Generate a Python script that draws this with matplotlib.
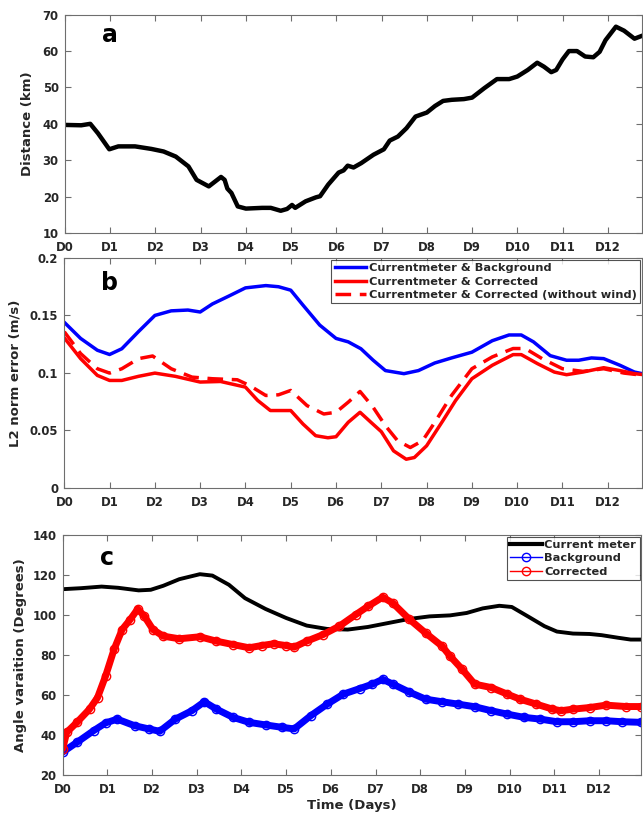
import numpy as np
import matplotlib
matplotlib.use("Agg")
import matplotlib.pyplot as plt
from matplotlib.lines import Line2D

# panel a: distance (km)
dist_t = [0, 0.36, 0.56, 0.73, 0.98, 1.18, 1.55, 1.91, 2.18, 2.45, 2.73, 2.91, 3.18, 3.45, 3.53,
          3.59, 3.68, 3.82, 4.0, 4.36, 4.55, 4.77, 4.91, 5.02, 5.09, 5.32, 5.55, 5.64, 5.82, 6.05,
          6.16, 6.25, 6.38, 6.55, 6.82, 7.05, 7.18, 7.36, 7.55, 7.75, 8.0, 8.18, 8.36, 8.55, 8.82,
          9.0, 9.27, 9.55, 9.82, 10.0, 10.23, 10.44, 10.59, 10.75, 10.86, 11.0, 11.14, 11.32, 11.5,
          11.68, 11.82, 11.95, 12.18, 12.36, 12.59, 12.8]
dist_km = [39.7, 39.6, 40.0, 37.4, 33.0, 33.8, 33.8, 33.1, 32.4, 31.0, 28.3, 24.6, 22.8, 25.4, 24.6,
           22.2, 21.0, 17.3, 16.7, 16.9, 16.9, 16.1, 16.6, 17.7, 16.9, 18.7, 19.8, 20.1, 23.3, 26.6,
           27.2, 28.5, 28.0, 29.2, 31.5, 33.0, 35.4, 36.5, 38.8, 42.0, 43.1, 44.9, 46.3, 46.6, 46.8,
           47.2, 49.8, 52.3, 52.3, 53.0, 54.8, 56.8, 55.7, 54.2, 54.8, 57.7, 60.0, 60.0, 58.5,
           58.3, 59.8, 63.0, 66.7, 65.6, 63.4, 64.4]

# panel b: L2 norm error (m/s)
bg_t = [0, 0.36, 0.73, 1.0, 1.27, 1.64, 2.0, 2.36, 2.73, 3.0, 3.27, 3.64, 4.0, 4.45, 4.73, 5.0,
        5.27, 5.64, 6.0, 6.27, 6.55, 6.82, 7.09, 7.5, 7.82, 8.18, 8.55, 9.0, 9.45, 9.82, 10.09,
        10.36, 10.73, 11.09, 11.36, 11.64, 11.91, 12.27, 12.59, 12.8]
bg_err = [0.144, 0.130, 0.1197, 0.116, 0.121, 0.136, 0.150, 0.154, 0.1547, 0.153, 0.160, 0.167,
          0.174, 0.176, 0.175, 0.172, 0.159, 0.1416, 0.130, 0.127, 0.121, 0.111, 0.102, 0.0993,
          0.102, 0.1086, 0.113, 0.118, 0.128, 0.133, 0.133, 0.127, 0.115, 0.111, 0.111, 0.113,
          0.1124, 0.1066, 0.1007, 0.099]

cor_t = [0, 0.36, 0.73, 1.0, 1.27, 1.64, 2.0, 2.45, 3.0, 3.45, 4.0, 4.27, 4.55, 5.0, 5.27, 5.55,
         5.82, 6.0, 6.27, 6.53, 6.77, 7.0, 7.27, 7.55, 7.73, 8.0, 8.36, 8.64, 9.0, 9.45, 9.91,
         10.09, 10.45, 10.82, 11.09, 11.45, 11.91, 12.27, 12.59, 12.8]
cor_err = [0.1305, 0.1124, 0.0978, 0.0934, 0.0934, 0.097, 0.0998, 0.097, 0.092, 0.0925, 0.0876,
           0.076, 0.0672, 0.0672, 0.0555, 0.0453, 0.0435, 0.0444, 0.057, 0.0657, 0.057, 0.0488,
           0.0321, 0.0248, 0.0263, 0.0365, 0.0584, 0.0759, 0.0949, 0.1066, 0.1159, 0.1159, 0.108,
           0.1007, 0.0984, 0.1007, 0.1045, 0.102, 0.0993, 0.0984]

nw_t = [0, 0.36, 0.73, 1.0, 1.27, 1.64, 1.95, 2.36, 2.82, 3.27, 3.82, 4.09, 4.45, 4.73, 5.0,
        5.36, 5.73, 6.0, 6.27, 6.53, 6.82, 7.09, 7.36, 7.64, 7.91, 8.18, 8.55, 9.0, 9.45, 9.91,
        10.18, 10.55, 11.0, 11.45, 11.91, 12.36, 12.8]
nw_err = [0.1358, 0.1168, 0.1036, 0.0998, 0.1036, 0.1124, 0.1147, 0.1036, 0.0963, 0.0949, 0.094,
          0.089, 0.0803, 0.0809, 0.0847, 0.0715, 0.0642, 0.0657, 0.0745, 0.0838, 0.070, 0.054,
          0.0409, 0.035, 0.0409, 0.0569, 0.0803, 0.1036, 0.1139, 0.1212, 0.1212, 0.1124, 0.1036,
          0.1013, 0.1036, 0.0998, 0.0978]

# panel c: angle (degrees)
cm_t = [0, 0.41, 0.87, 1.24, 1.7, 1.97, 2.25, 2.61, 3.07, 3.35, 3.72, 4.08, 4.54, 5.0, 5.46,
        5.92, 6.38, 6.83, 7.29, 7.75, 8.21, 8.67, 9.04, 9.4, 9.77, 10.05, 10.41, 10.78, 11.06,
        11.42, 11.79, 12.06, 12.43, 12.71, 12.94]
cm_ang = [112.8, 113.3, 114.1, 113.5, 112.2, 112.5, 114.5, 117.8, 120.3, 119.6, 115.0, 108.3,
          102.9, 98.4, 94.6, 92.9, 92.6, 93.9, 95.9, 97.9, 99.2, 99.7, 100.9, 103.2, 104.5, 103.9,
          99.2, 94.3, 91.6, 90.6, 90.4, 89.8, 88.5, 87.6, 87.6]

bgc_t = [0, 0.32, 0.69, 0.96, 1.22, 1.61, 1.93, 2.17, 2.52, 2.89, 3.17, 3.44, 3.81, 4.17, 4.54,
         4.91, 5.18, 5.55, 5.92, 6.28, 6.65, 6.93, 7.16, 7.39, 7.75, 8.12, 8.49, 8.85, 9.22,
         9.59, 9.95, 10.32, 10.69, 11.06, 11.42, 11.79, 12.16, 12.52, 12.94]
bgc_ang = [31.3, 36.2, 42.0, 45.9, 47.8, 44.5, 42.9, 41.7, 47.8, 52.0, 56.5, 52.8, 48.7, 46.2,
           44.9, 43.7, 42.9, 49.5, 55.3, 60.3, 63.1, 65.3, 67.7, 65.3, 61.4, 57.8, 56.5, 55.3,
           54.0, 52.0, 50.3, 48.7, 47.8, 46.5, 46.5, 47.0, 47.0, 46.5, 46.2]

corc_t = [0, 0.09, 0.32, 0.6, 0.78, 0.96, 1.15, 1.33, 1.51, 1.68, 1.83, 2.02, 2.25, 2.61, 3.07,
          3.44, 3.81, 4.17, 4.45, 4.72, 5.0, 5.18, 5.46, 5.83, 6.19, 6.56, 6.83, 7.16, 7.39,
          7.75, 8.12, 8.49, 8.67, 8.94, 9.22, 9.59, 9.95, 10.23, 10.6, 10.96, 11.15, 11.42,
          11.79, 12.16, 12.61, 12.94]
corc_ang = [32.9, 41.2, 46.2, 52.8, 58.6, 69.4, 82.7, 92.6, 97.6, 102.9, 99.2, 92.6, 89.3, 88.0,
            89.0, 86.8, 85.1, 83.5, 84.6, 85.5, 84.6, 83.8, 86.8, 90.1, 94.3, 100.1, 104.2,
            108.8, 105.8, 97.9, 90.9, 84.3, 79.3, 72.7, 65.3, 63.6, 60.3, 57.8, 55.3, 52.8, 52.0,
            52.8, 53.6, 54.8, 54.1, 54.1]

day_labels = ['D%d' % i for i in range(13)]

txt = '#262626'
spine = '#6e6e6e'
plt.rcParams['font.family'] = 'DejaVu Sans'
plt.rcParams['font.weight'] = 'bold'
plt.rcParams['font.size'] = 9.5

fig = plt.figure(figsize=(6.43, 8.16), dpi=100)
ax_a = fig.add_axes([0.101, 0.7145, 0.897, 0.2675])
ax_b = fig.add_axes([0.100, 0.4023, 0.898, 0.2815])
ax_c = fig.add_axes([0.0975, 0.0506, 0.900, 0.294])


def style(ax, xmax):
    ax.set_xlim(0, xmax)
    ax.set_xticks(range(13))
    ax.set_xticklabels(day_labels)
    ax.tick_params(direction='in', top=True, right=True, length=4, width=0.8,
                   colors=spine, labelcolor=txt, labelsize=8.4)
    ax.tick_params(axis='x', pad=6)
    ax.tick_params(axis='y', pad=4.5)
    for s in ax.spines.values():
        s.set_color(spine)
        s.set_linewidth(0.8)


def boxed_legend(leg):
    leg.get_frame().set_edgecolor('#262626')
    leg.get_frame().set_linewidth(0.8)
    for t in leg.get_texts():
        t.set_color(txt)


leg_kw = dict(loc='upper right', fontsize=8.2, frameon=True, fancybox=False,
              borderaxespad=0.15, handlelength=2.8, handletextpad=0.2,
              labelspacing=0.3, borderpad=0.3)

# a
ax_a.plot(dist_t, dist_km, color='black', lw=3.2)
style(ax_a, 12.75)
ax_a.set_ylim(10, 70)
ax_a.set_yticks(range(10, 71, 10))
ax_a.set_ylabel('Distance (km)', color=txt, fontweight='bold', labelpad=6)
ax_a.text(1.0, 64.5, 'a', fontsize=17, fontweight='bold', ha='center', va='center')

# b
ax_b.plot(bg_t, bg_err, color='blue', lw=2.5, label='Currentmeter & Background')
ax_b.plot(cor_t, cor_err, color='red', lw=2.5, label='Currentmeter & Corrected')
ax_b.plot(nw_t, nw_err, color='red', lw=2.5, ls=(0, (4.5, 2.5)),
          label='Currentmeter & Corrected (without wind)')
style(ax_b, 12.75)
ax_b.set_ylim(0, 0.2)
ax_b.set_yticks([0, 0.05, 0.1, 0.15, 0.2])
ax_b.set_yticklabels(['0', '0.05', '0.1', '0.15', '0.2'])
ax_b.set_ylabel('L2 norm error (m/s)', color=txt, fontweight='bold', labelpad=6)
ax_b.text(1.0, 0.178, 'b', fontsize=17, fontweight='bold', ha='center', va='center')
boxed_legend(ax_b.legend(**leg_kw))

# c
ax_c.plot(cm_t, cm_ang, color='black', lw=2.8)
ax_c.plot(bgc_t, bgc_ang, color='blue', lw=5, solid_capstyle='round')
ax_c.plot(bgc_t, bgc_ang, 'o', color='blue', mfc='none', ms=6, mew=1)
ax_c.plot(corc_t, corc_ang, color='red', lw=5, solid_capstyle='round')
ax_c.plot(corc_t, corc_ang, 'o', color='red', mfc='none', ms=6, mew=1)
style(ax_c, 12.95)
ax_c.set_ylim(20, 140)
ax_c.set_yticks(range(20, 141, 20))
ax_c.set_ylabel('Angle varaition (Degrees)', color=txt, fontweight='bold', labelpad=4)
ax_c.set_xlabel('Time (Days)', color=txt, fontweight='bold', labelpad=2)
ax_c.text(1.0, 128.5, 'c', fontsize=17, fontweight='bold', ha='center', va='center')
handles = [Line2D([], [], color='black', lw=3),
           Line2D([], [], color='blue', lw=1, marker='o', mfc='none', ms=6),
           Line2D([], [], color='red', lw=1, marker='o', mfc='none', ms=6)]
boxed_legend(ax_c.legend(handles, ['Current meter', 'Background', 'Corrected'], **leg_kw))

fig.savefig('out.png', dpi=100)
